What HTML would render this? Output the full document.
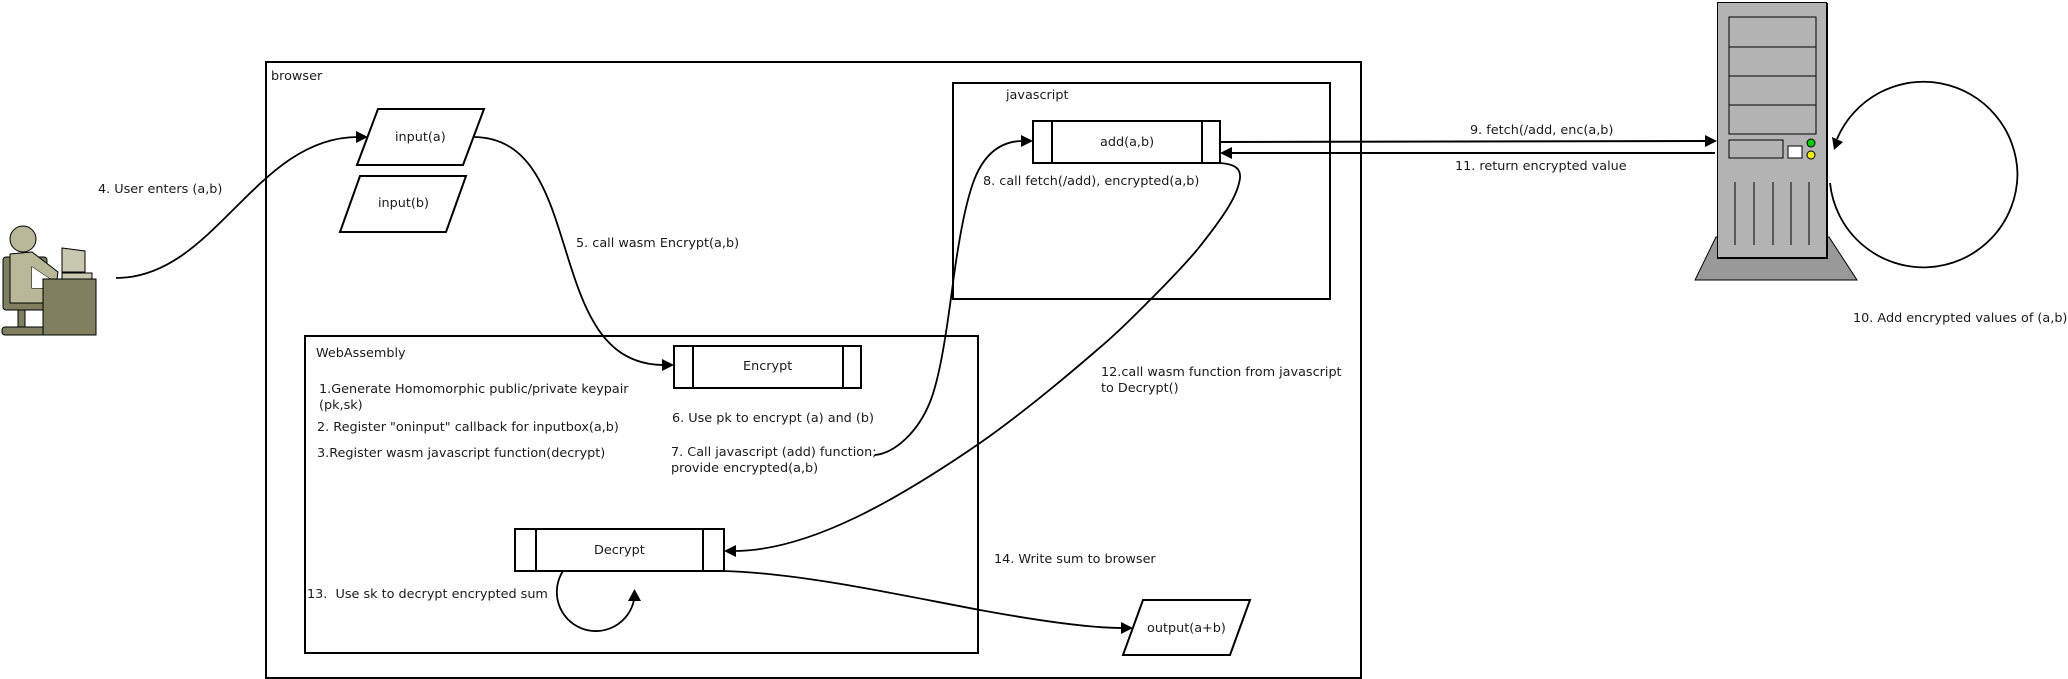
<!DOCTYPE html>
<html><head><meta charset="utf-8"><style>
html,body{margin:0;padding:0;background:#fff;width:2068px;height:679px;overflow:hidden}
svg{display:block}
text{font-family:"DejaVu Sans",sans-serif;font-size:12.8px;fill:#1a1a1a}
.b{fill:#fff;stroke:#000;stroke-width:2}
.n{fill:none;stroke:#000;stroke-width:2}
.c{fill:none;stroke:#000;stroke-width:1.8}
.s{stroke:#000;stroke-width:1}
</style></head><body>
<svg width="2068" height="679" viewBox="0 0 2068 679" xmlns="http://www.w3.org/2000/svg">
<rect class="n" x="266" y="62" width="1095" height="616"/>
<rect class="n" x="953" y="83" width="377" height="216"/>
<rect class="n" x="305" y="336" width="673" height="317"/>

<polygon class="b" points="378,109 484,109 463,165 357,165"/>
<polygon class="b" points="360,176 466,176 446,232 340,232"/>
<polygon class="b" points="1143,600 1250,600 1230,655 1123,655"/>

<rect class="b" x="1033" y="121" width="187" height="42"/>
<path class="n" d="M1052 121V163M1202 121V163"/>
<rect class="b" x="674" y="346" width="187" height="42"/>
<path class="n" d="M693 346V388M843 346V388"/>
<rect class="b" x="515" y="529" width="209" height="42"/>
<path class="n" d="M536 529V571M703 529V571"/>

<!-- connectors -->
<path class="c" d="M116 278C215 278 255 137 358 137"/>
<polygon points="368,137 356,131 356,143"/>
<path class="c" d="M473 137C590 137 540 365 664 365"/>
<polygon points="674,365 662,359 662,371"/>
<path class="c" d="M875 455C895 453 918 432 930 402C941 375 948 320 953 283C960 230 967 200 973 183C983 155 1000 141 1023 141"/>
<polygon points="1033,141 1021,135 1021,147"/>
<path class="c" d="M1220 163C1234 164 1241 168 1240 178C1238 195 1225 215 1197 250C1180 270 1165 285 1150 300C1130 320 1115 335 1097 350C1060 382 1020 415 980 443C900 498 810 551 734 551"/>
<polygon points="724,551 736,545 736,557"/>
<path class="c" d="M724 571C800 573 900 595 980 610C1040 621 1090 628 1123 628"/>
<polygon points="1133,628 1121,622 1121,634"/>
<path class="c" d="M563 571A39 39 0 1 0 634 600"/>
<polygon points="634.5,589 628,601 641,601"/>
<path class="n" d="M1220 142L1707 141"/>
<polygon points="1717,141 1705,135 1705,147"/>
<path class="n" d="M1715 153L1230 153"/>
<polygon points="1220,153 1232,147 1232,159"/>
<path class="c" d="M1830 183A94 94 0 0 0 2017.5 174A94 94 0 0 0 1837 139"/>
<polygon points="1834,150 1832,137 1843,142"/>

<!-- person -->
<rect class="s" x="3" y="257" width="44" height="53" rx="3" fill="#808060"/>
<rect class="s" x="18" y="310" width="7" height="18" fill="#808060"/>
<rect class="s" x="2" y="327" width="44" height="8" rx="3" fill="#808060"/>
<polygon class="s" fill="#b8b898" points="10,254 32,252 58,272 57,279 50,279 32,267 32,288 43,288 43,303 10,303"/>
<polygon fill="#fff" points="32,267 50,279 43,279 43,288 32,288"/>
<circle class="s" cx="23" cy="239" r="13" fill="#b8b898"/>
<polygon class="s" fill="#c8c8b0" points="62,248 85,251 85,272 62,272"/>
<rect class="s" x="62" y="273" width="30" height="6" fill="#c8c8b0"/>
<rect class="s" x="43" y="279" width="53" height="56" fill="#808060"/>

<!-- server -->
<polygon fill="#999" stroke="#000" points="1716,237 1829,237 1857,280 1695,280"/>
<rect x="1717.5" y="2.5" width="109" height="255" fill="#b3b3b3" stroke="#000" stroke-width="1"/>
<path d="M1827 3V258H1717" fill="none" stroke="#000" stroke-width="2"/>
<rect x="1729" y="17" width="87" height="117" fill="none" stroke="#000" stroke-width="1"/>
<path d="M1729 47H1816M1729 76H1816M1729 105H1816" stroke="#000" stroke-width="1"/>
<rect x="1729" y="140" width="54" height="18" fill="none" stroke="#000" stroke-width="1"/>
<rect x="1788" y="146" width="14" height="12" fill="#fff" stroke="#000" stroke-width="1"/>
<circle cx="1811" cy="143" r="4" fill="#0c0" stroke="#000"/>
<circle cx="1811" cy="155" r="4" fill="#ee0" stroke="#000"/>
<path d="M1735 182V245M1754 182V245M1773 182V245M1791 182V245M1809 182V245" stroke="#000" stroke-width="1"/>

<!-- labels -->
<text x="271" y="80">browser</text>
<text x="395" y="141">input(a)</text>
<text x="378" y="207">input(b)</text>
<text x="576" y="247">5. call wasm Encrypt(a,b)</text>
<text x="98" y="193">4. User enters (a,b)</text>
<text x="316" y="357">WebAssembly</text>
<text x="319" y="393">1.Generate Homomorphic public/private keypair</text>
<text x="319" y="409">(pk,sk)</text>
<text x="317" y="431">2. Register "oninput" callback for inputbox(a,b)</text>
<text x="317" y="457">3.Register wasm javascript function(decrypt)</text>
<text x="672" y="422">6. Use pk to encrypt (a) and (b)</text>
<text x="671" y="456">7. Call javascript (add) function;</text>
<text x="671" y="472">provide encrypted(a,b)</text>
<text x="743" y="370">Encrypt</text>
<text x="594" y="554">Decrypt</text>
<text x="307" y="598">13.&#160; Use sk to decrypt encrypted sum</text>
<text x="1006" y="99">javascript</text>
<text x="1100" y="146">add(a,b)</text>
<text x="983" y="185">8. call fetch(/add), encrypted(a,b)</text>
<text x="1101" y="376">12.call wasm function from javascript</text>
<text x="1101" y="392">to Decrypt()</text>
<text x="994" y="563">14. Write sum to browser</text>
<text x="1147" y="632">output(a+b)</text>
<text x="1470" y="134">9. fetch(/add, enc(a,b)</text>
<text x="1455" y="170">11. return encrypted value</text>
<text x="1853" y="322">10. Add encrypted values of (a,b)</text>
</svg>
</body></html>
